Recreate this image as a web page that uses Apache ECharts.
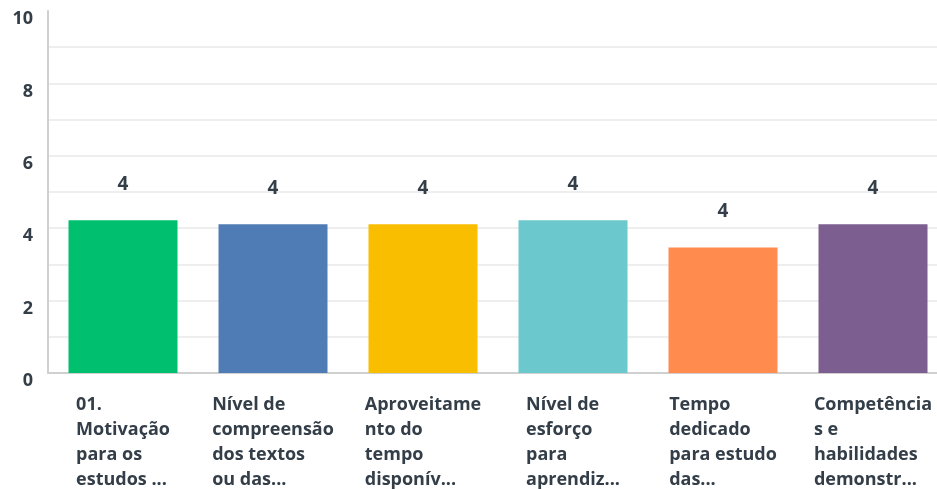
<!DOCTYPE html>
<html><head><meta charset="utf-8">
<script src="https://cdn.jsdelivr.net/npm/echarts@6/dist/echarts.min.js"></script>
<style>html,body{margin:0;padding:0;background:#fff}#c{width:937px;height:489px}</style>
</head><body><div id="c"></div>
<script>
const categories = [
  "01.\nMotivação\npara os\nestudos ...",
  "Nível de\ncompreensão\ndos textos\nou das...",
  "Aproveitame\nnto do\ntempo\ndisponív...",
  "Nível de\nesforço\npara\naprendiz...",
  "Tempo\ndedicado\npara estudo\ndas...",
  "Competência\ns e\nhabilidades\ndemonstr..."
];
const values = [4.22, 4.11, 4.11, 4.22, 3.47, 4.11];
const valueLabels = ["4", "4", "4", "4", "4", "4"];
const colors = ["#00BF6F", "#507CB6", "#F9BE00", "#6BC8CD", "#FF8B4F", "#7D5E90"];
const yTicks = [0, 2, 4, 6, 8, 10];

const FONT = "'Open Sans', sans-serif";
const TXT = "#333e48";
const chart = echarts.init(document.getElementById('c'), null, {renderer: 'canvas'});
chart.setOption({
  animation: false,
  grid: {left: 48, top: 11, width: 900, bottom: 116, containLabel: false, outerBoundsMode: 'none'},
  xAxis: {
    type: 'category',
    data: categories,
    axisTick: {show: false},
    axisLine: {show: true, lineStyle: {color: '#d0d0d0', width: 2}},
    axisLabel: {
      interval: 0,
      margin: 20,
      align: 'center',
      hideOverlap: false,
      formatter: function (v) { return v.split('\n').map(s => '{l|' + s + '}').join('\n'); },
      rich: {l: {align: 'left', fontFamily: FONT, fontSize: 18, fontWeight: 'bold', color: TXT, lineHeight: 24.7}}
    }
  },
  yAxis: {
    type: 'value',
    min: 0, max: 10, interval: 1,
    axisLine: {show: true, lineStyle: {color: '#d0d0d0', width: 2}},
    axisTick: {show: false},
    splitLine: {show: true, showMaxLine: false, lineStyle: {color: '#eeeeee', width: 2}},
    axisLabel: {
      margin: 15,
      verticalAlign: 'top',
      lineHeight: 16,
      fontFamily: FONT, fontSize: 18, fontWeight: 'bold', color: TXT,
      formatter: function (v) { return yTicks.indexOf(v) >= 0 ? String(v) : ''; }
    }
  },
  series: [{
    type: 'bar',
    barWidth: 109,
    data: values.map((v, i) => ({value: v, itemStyle: {color: colors[i]}})),
    label: {
      show: true, position: 'top', distance: 26,
      fontFamily: FONT, fontSize: 19, fontWeight: 'bold', color: TXT,
      formatter: p => valueLabels[p.dataIndex]
    }
  }]
});
</script></body></html>
